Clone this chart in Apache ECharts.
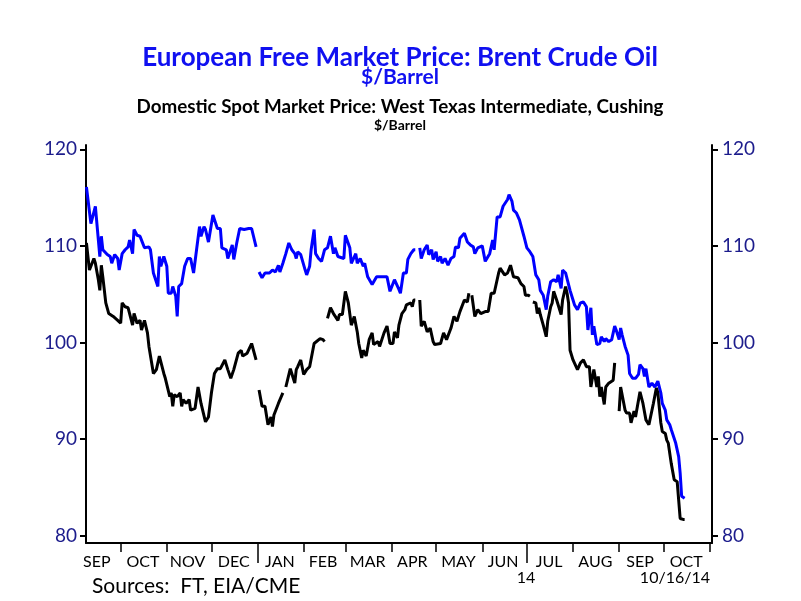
<!DOCTYPE html>
<html><head><meta charset="utf-8">
<script src="https://cdn.jsdelivr.net/npm/echarts@6/dist/echarts.min.js"></script>
<style>html,body{margin:0;padding:0;background:#fff}#c{width:801px;height:601px}</style>
</head><body><div id="c"></div>
<script>
// Time is counted in days after 2013-10-01 (day 0 = Oct 1, 2013).
const brentDay = [
-23,-20,-19,-17,-14,-13,-12,-11,-9,-7,-6,-4,-2,-1,1,3,5,6,8,9,11,13,14,16,19,20,22,25,26,27,29,
31,32,34,35,37,38,39,41,43,45,47,49,51,53,54,56,57,59,62,65,67,68,71,72,75,76,78,80,83,86,88,91,92,
93,95,97,100,102,104,106,107,109,110,111,113,115,117,118,119,121,122,124,125,127,128,130,131,133,135,137,139,141,143,144,146,147,150,
151,154,155,158,159,161,163,164,166,167,169,170,172,173,175,179,181,182,184,187,188,190,192,193,195,197,198,199,201,202,204,206,207,209,210,
212,213,215,216,218,219,220,222,224,225,227,228,229,231,233,235,237,238,240,243,245,248,250,251,253,255,257,258,260,261,263,264,266,268,269,271,272,
273,275,277,279,281,282,284,286,287,289,291,293,294,296,297,299,300,302,304,305,307,309,311,313,314,316,317,318,320,322,323,325,326,328,330,332,333,
335,336,337,339,341,342,344,346,348,349,351,352,353,355,356,357,359,361,363,364,366,367,369,370,373,374,375,376,377,379
];
const brent = [
116.1,112.3,112.2,114.1,108.9,111.0,109.6,109.8,109.1,108.9,108.2,109.1,108.7,107.5,109.2,109.6,109.9,110.6,109.2,111.7,111.1,111.0,110.6,109.8,109.9,109.6,107.2,105.8,108.9,107.9,108.9,
107.9,105.1,105.1,105.8,104.8,102.7,105.8,106.1,107.9,108.7,108.7,107.2,109.6,112.0,111.0,112.0,111.7,110.4,113.2,111.8,111.8,109.8,109.6,108.7,110.1,108.6,110.3,111.8,111.7,111.8,111.8,109.9,null,
107.3,106.7,107.2,107.2,107.5,107.3,108.0,107.3,108.2,108.4,109.2,110.3,109.6,109.2,108.7,109.4,109.1,109.2,107.5,107.0,107.9,109.6,111.7,109.2,108.7,108.4,109.6,109.8,111.0,109.2,109.8,108.9,109.1,108.7,
111.1,109.8,108.2,109.2,108.2,108.7,107.9,108.2,106.8,106.7,106.0,105.8,106.8,106.7,106.8,106.8,105.3,105.1,106.5,105.5,105.1,107.2,107.2,108.6,109.2,109.6,109.6,null,109.8,108.7,109.6,110.1,109.1,109.6,108.6,
109.4,108.4,108.9,108.2,108.7,108.6,108.0,108.7,108.9,109.9,109.8,110.8,110.6,111.3,110.4,110.1,109.9,109.2,109.8,110.0,108.4,109.2,110.6,109.6,113.0,113.0,114.1,113.9,114.8,115.3,114.6,113.7,113.4,112.7,112.9,111.0,110.8,
109.8,109.4,108.9,107.0,106.5,105.4,104.9,103.4,104.8,106.3,106.5,106.3,107.0,105.6,107.5,107.2,107.0,105.4,104.4,103.9,103.4,104.1,104.2,103.7,101.3,103.6,100.8,101.7,99.8,99.9,100.6,100.1,100.4,100.1,100.3,101.7,101.3,
100.3,101.5,100.8,99.6,98.7,96.8,96.3,96.3,96.7,97.7,97.3,96.5,97.3,95.4,95.3,95.8,95.4,96.0,94.8,93.7,93.0,92.0,91.5,91.0,89.6,89.4,88.2,86.5,84.1,83.9
];
const wtiDay = [
-23,-21,-20,-18,-17,-15,-14,-13,-12,-10,-8,-5,-2,0,1,3,5,6,8,9,11,13,14,16,18,19,22,24,26,29,30,
33,34,35,36,38,40,41,42,44,46,47,50,52,54,57,59,61,63,65,67,70,72,74,76,77,79,81,82,85,88,91,92,
93,95,97,99,101,102,103,106,107,109,110,111,114,115,117,118,119,121,123,125,127,130,131,134,136,137,138,139,141,143,144,146,147,149,
151,153,155,157,159,160,162,163,165,167,169,170,173,174,177,179,181,183,184,186,187,189,191,192,195,196,197,198,199,201,202,204,206,208,210,211,
215,217,219,222,224,226,228,229,231,233,234,235,236,238,240,242,245,247,249,251,254,255,256,258,260,262,264,265,267,269,271,272,
274,275,276,277,279,280,281,282,284,285,286,287,289,290,291,293,296,297,299,300,301,302,304,305,307,309,311,313,315,316,318,320,321,322,323,325,326,328,331,332,333,
335,336,339,340,342,343,345,346,347,349,351,353,355,356,358,359,360,361,363,364,366,367,368,370,372,374,376,378,379
];
const wti = [
110.3,107.5,107.7,108.7,108.2,106.5,105.4,108.0,106.8,104.1,103.0,102.7,102.3,102.0,104.1,103.7,103.6,103.0,101.8,103.0,102.0,102.3,101.3,102.3,101.0,99.6,96.8,97.2,98.6,96.8,96.3,
94.4,94.8,93.4,94.6,94.4,94.8,93.4,94.1,93.7,94.1,93.0,93.2,95.4,93.7,91.8,92.3,94.8,96.8,97.3,97.3,98.2,97.2,96.3,97.2,97.2,98.9,99.2,98.6,98.9,99.9,98.2,null,
95.1,93.4,93.4,91.5,92.3,91.3,92.5,93.7,93.7,94.8,null,95.4,97.3,96.8,95.8,97.2,97.5,98.2,96.7,97.2,97.5,99.9,100.1,100.4,100.3,100.1,null,102.5,103.6,103.0,103.2,102.3,102.9,102.9,
105.3,104.1,101.8,102.7,101.1,99.9,98.4,99.2,98.6,100.3,101.0,99.8,100.1,99.6,101.0,101.7,99.9,99.9,101.1,100.5,101.8,103.0,103.4,103.9,104.1,103.7,104.4,104.4,null,104.4,101.7,102.2,101.1,101.5,100.1,99.8,
99.9,101.0,100.3,101.5,102.7,102.2,103.2,103.0,104.4,104.2,105.1,null,104.9,102.7,103.4,103.0,103.2,103.2,105.1,105.1,107.2,107.7,107.5,107.0,107.2,108.0,106.8,107.0,106.7,106.1,105.8,104.9,
104.9,104.8,null,104.2,104.1,103.0,103.6,102.9,101.8,101.7,100.6,102.2,103.7,104.1,105.3,104.4,102.9,104.4,105.8,105.1,104.1,99.2,98.2,98.0,97.2,97.9,98.2,97.5,97.5,95.4,97.2,95.4,96.5,94.4,95.4,93.6,95.4,95.8,96.1,97.9,null,
92.9,95.4,93.0,92.7,92.7,91.7,92.9,92.3,92.5,94.9,93.7,92.0,91.5,91.7,93.7,93.6,95.3,94.8,91.7,90.8,90.6,89.9,89.6,87.5,85.8,85.6,81.8,81.7,81.7
];
const yTicks = [80, 90, 100, 110, 120];
const monthStarts = ['2013-10-01','2013-11-01','2013-12-01','2014-01-01','2014-02-01','2014-03-01','2014-04-01','2014-05-01','2014-06-01','2014-07-01','2014-08-01','2014-09-01','2014-10-01','2014-11-01'];
const halfYearStarts = ['2014-01-01','2014-07-01'];
const monthLabelDates = ['2013-09-15','2013-10-16','2013-11-15','2013-12-16','2014-01-16','2014-02-14','2014-03-16','2014-04-15','2014-05-16','2014-06-15','2014-07-16','2014-08-16','2014-09-15','2014-10-16'];
const monthLabels = ['SEP','OCT','NOV','DEC','JAN','FEB','MAR','APR','MAY','JUN','JUL','AUG','SEP','OCT'];

const BASE = Date.UTC(2013, 9, 1);
function dayOf(s) { const p = s.split('-').map(Number); return (Date.UTC(p[0], p[1]-1, p[2]) - BASE) / 86400000; }
const labelDays = monthLabelDates.map(dayOf);
const tickDays = monthStarts.map(dayOf);
const longTickDays = halfYearStarts.map(dayOf);

const FONT = 'Lato';
const XMIN = -23.3, XMAX = 397.4;
const chart = echarts.init(document.getElementById('c'), null, {renderer: 'canvas'});
const yAxisCommon = {
  type: 'value', min: 79.26, max: 120.44,
  axisLine: {show: true, onZero: false, lineStyle: {color: '#000', width: 2}},
  axisTick: {show: true, customValues: yTicks, length: 6, lineStyle: {color: '#000', width: 2}},
  axisLabel: {customValues: yTicks, color: '#1c1c8c', fontFamily: FONT, fontSize: 19},
  splitLine: {show: false}
};
chart.setOption({
  animation: false,
  backgroundColor: '#fff',
  grid: {left: 86, right: 89, top: 145, bottom: 58, containLabel: false},
  xAxis: [{
    type: 'value', min: XMIN, max: XMAX,
    axisLine: {show: true, onZero: false, lineStyle: {color: '#000', width: 2}},
    axisTick: {show: true, customValues: tickDays, length: 9, lineStyle: {color: '#000', width: 1.5}},
    axisLabel: {customValues: labelDays, margin: 11, color: '#000', fontFamily: FONT, fontSize: 16,
      formatter: function (v) { const i = labelDays.indexOf(v); return i >= 0 ? monthLabels[i] : ''; }},
    splitLine: {show: false}
  }, {
    type: 'value', min: XMIN, max: XMAX, position: 'bottom',
    axisLine: {show: false, onZero: false},
    axisTick: {show: true, customValues: longTickDays, length: 20, lineStyle: {color: '#000', width: 1.5}},
    axisLabel: {show: false},
    splitLine: {show: false}
  }],
  yAxis: [
    Object.assign({}, yAxisCommon, {position: 'left', axisLabel: Object.assign({}, yAxisCommon.axisLabel, {margin: 9})}),
    Object.assign({}, yAxisCommon, {position: 'right', axisLabel: Object.assign({}, yAxisCommon.axisLabel, {margin: 10})})
  ],
  series: [
    {name: 'Brent', type: 'line', xAxisIndex: 0, yAxisIndex: 0, showSymbol: false, symbol: 'none', connectNulls: false,
      lineStyle: {color: '#0000ff', width: 3}, data: brentDay.map((d, i) => [d, brent[i]])},
    {name: 'WTI', type: 'line', xAxisIndex: 0, yAxisIndex: 0, showSymbol: false, symbol: 'none', connectNulls: false,
      lineStyle: {color: '#000000', width: 3}, data: wtiDay.map((d, i) => [d, wti[i]])}
  ],
  graphic: [
    {type: 'text', x: 400, y: 58, style: {text: 'European Free Market Price: Brent Crude Oil', fill: '#1010f0', font: 'bold 26px ' + FONT, textAlign: 'center', textVerticalAlign: 'middle'}},
    {type: 'text', x: 400, y: 77, style: {text: '$/Barrel', fill: '#1010f0', font: 'bold 21px ' + FONT, textAlign: 'center', textVerticalAlign: 'middle'}},
    {type: 'text', x: 400, y: 107, style: {text: 'Domestic Spot Market Price: West Texas Intermediate, Cushing', fill: '#000', font: 'bold 18.8px ' + FONT, textAlign: 'center', textVerticalAlign: 'middle'}},
    {type: 'text', x: 400, y: 125, style: {text: '$/Barrel', fill: '#000', font: 'bold 14px ' + FONT, textAlign: 'center', textVerticalAlign: 'middle'}},
    {type: 'text', x: 526, y: 578, style: {text: '14', fill: '#000', font: '16px ' + FONT, textAlign: 'center', textVerticalAlign: 'middle'}},
    {type: 'text', x: 92, y: 586, style: {text: 'Sources:  FT, EIA/CME', fill: '#000', font: '21px ' + FONT, textAlign: 'left', textVerticalAlign: 'middle'}},
    {type: 'text', x: 710, y: 578, style: {text: '10/16/14', fill: '#000', font: '16px ' + FONT, textAlign: 'right', textVerticalAlign: 'middle'}}
  ]
});
</script></body></html>
